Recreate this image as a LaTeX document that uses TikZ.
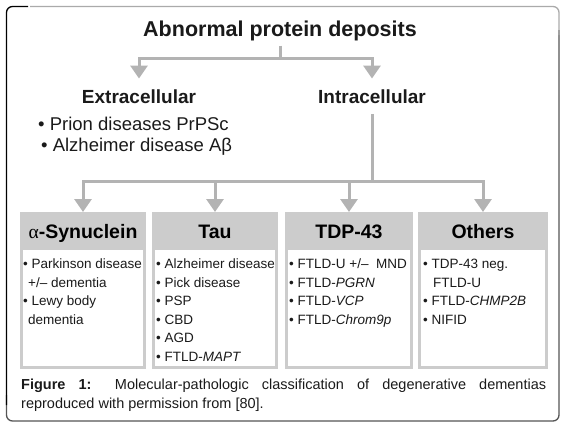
\documentclass[tikz,border=0pt]{standalone}
\usepackage{fontspec}
\setmainfont{Liberation Sans}
\newfontfamily\greekserif{Liberation Serif}
\usetikzlibrary{arrows.meta,calc}
\definecolor{connc}{HTML}{B3B3B3}
\definecolor{boxgrey}{HTML}{CCCCCC}
\definecolor{ink}{HTML}{1A1A1A}
\definecolor{framelight}{HTML}{AAAAAA}
\definecolor{framedark}{HTML}{555555}
\begin{document}
\begin{tikzpicture}[x=1pt,y=-1pt,
  connline/.style={draw=connc, line width=3pt},
  arr/.style={connline, -{Triangle[width=17pt,length=13pt]}},
  catbox/.style={fill=boxgrey, draw=none, minimum width=#1, minimum height=157pt, inner sep=0pt, anchor=north},
  titletext/.style={font=\bfseries\fontsize{21.5}{25}\selectfont, text=ink, inner sep=0pt, anchor=base},
  subtext/.style={font=\bfseries\fontsize{19}{23}\selectfont, text=ink, inner sep=0pt, anchor=base},
  bultext/.style={font=\fontsize{18.5}{22}\selectfont, text=ink, inner sep=0pt, anchor=base west},
  hdrtext/.style={font=\bfseries\fontsize{19.5}{23}\selectfont, text=black, inner sep=0pt, anchor=base},
  listtext/.style={font=\fontsize{13.5}{18.5}\selectfont, text=ink, inner sep=0pt, anchor=north west, align=left},
  captext/.style={font=\fontsize{14.5}{19}\selectfont, text=ink, inner sep=0pt, anchor=north west, align=justify, text width=525pt}
]
\useasboundingbox (0,0) rectangle (566,426);
% frame
\draw[framedark, line width=1.3pt, rounded corners=6pt] (559,30) -- (559,421) -- (6.5,421) -- (6.5,395);
\draw[framelight, line width=1.3pt, rounded corners=6pt] (30,6.5) -- (559,6.5) -- (559,35);
\draw[black, line width=1.3pt, rounded corners=6pt] (6.5,405) -- (6.5,6.5) -- (28,6.5);

% top level
\node[titletext] (title) at (280,36) {Abnormal protein deposits};
\node[subtext] (ext) at (139,103.5) {Extracellular};
\node[subtext] (intra) at (372,103.5) {Intracellular};
\node[bultext] (ext1) at (38,130.5) {• Prion diseases PrPSc};
\node[bultext] (ext2) at (41,151.5) {• Alzheimer disease Aβ};

\coordinate (tj) at (280,58);
\coordinate (ij) at (372,181);

% boxes
\node[catbox=126pt] (b1) at (83,212) {};
\node[catbox=126pt] (b2) at (215,212) {};
\node[catbox=128pt] (b3) at (349,212) {};
\node[catbox=130pt] (b4) at (483,212) {};
\foreach \b in {b1,b2,b3,b4}{
  \fill[white] ($(\b.south west)+(3,-3)$) rectangle ($(\b.north east)+(-3,38)$);
}

\node[hdrtext] (h1) at (83,238) {{\greekserif\mdseries α}-Synuclein};
\node[hdrtext] (h2) at (215,238) {Tau};
\node[hdrtext] (h3) at (349,238) {TDP-43};
\node[hdrtext] (h4) at (483,238) {Others};

\node[listtext] (l1) at (23,259) {• Parkinson disease\\\hspace{5pt}+/– dementia\\• Lewy body\\\hspace{5pt}dementia};
\node[listtext] (l2) at (156,259) {• Alzheimer disease\\• Pick disease\\• PSP\\• CBD\\• AGD\\• FTLD-\textit{MAPT}};
\node[listtext] (l3) at (289,259) {• FTLD-U +/–\ \ MND\\• FTLD-\textit{PGRN}\\• FTLD-\textit{VCP}\\• FTLD-\textit{Chrom9p}};
\node[listtext] (l4) at (423,259) {• TDP-43 neg.\\\hspace{10pt}FTLD-U\\• FTLD-\textit{CHMP2B}\\• NIFID};

% connectors
\draw[connline, shorten <=5pt] (title.south) -- (tj);
\draw[arr, shorten >=11pt] (tj) -| (ext.north);
\draw[arr, shorten >=11pt] (tj) -| (intra.north);
\draw[connline, shorten <=10pt] (intra.south) -- (ij);
\draw[arr] (ij) -| (b1.north);
\draw[arr] (ij) -| (b2.north);
\draw[arr] (ij) -| (b3.north);
\draw[arr] (ij) -| (b4.north);

% caption
\node[captext] (cap) at (21,379) {\hyphenpenalty=10000\exhyphenpenalty=10000\textbf{Figure 1:} Molecular-pathologic classification of degenerative dementias\linebreak reproduced with permission from [80].};
\end{tikzpicture}
\end{document}
